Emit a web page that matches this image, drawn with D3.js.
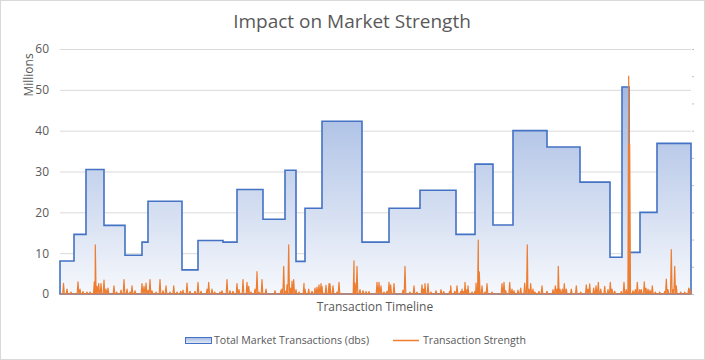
<!DOCTYPE html>
<html><head><meta charset="utf-8">
<script src="https://cdn.jsdelivr.net/npm/d3@7"></script>
<style>body{margin:0;background:#fff}text{font-family:"Open Sans",sans-serif}</style>
</head><body><svg id="c" width="705" height="360"></svg>
<script>
// ---- data ----
const yTickValues = [0, 10, 20, 30, 40, 50, 60];
const y2TickValues = [0, 1, 2, 3, 4, 5, 6, 7, 8, 9];
const timelineLength = 631;
// Total Market Transactions (millions): step start on timeline, value
const stepStarts = [0,14,26,44,65,82,88,122,138,163,177,203,225,236,245,262,302,329,360,396,415,433,453,487,520,550,562,569,580,597];
const stepValues = [8.1,14.6,30.5,16.8,9.5,12.7,22.7,5.9,13.1,12.7,25.6,18.3,30.3,8.0,21.0,42.3,12.7,21.0,25.4,14.6,31.8,16.9,40.0,36.0,27.4,9.0,50.7,10.2,20.0,36.9];
// Transaction Strength spikes (secondary axis)
const spikeTimes = [3.5,7,11,18,20,23,27,30,34.3,35.3,37,38.7,41,44,46,48,54,56.7,61,64,67,70,72,75,
82,84,86,88,90,92,96,100,103,106,110,113.7,117,120.7,123,127,130,135,138,141,147,148.7,152,154.7,
160,162,167,170,173,177,179,183,187,188.7,191,195,197,199,202,206,215,221,222,223.7,225.7,227,228.7,230.7,232,233.7,236,
239,244,245,248.7,252,255,257,259,261,262,266,269,270,273,277,279,294,295,297,300,303,306,309,317,
319,321,324,327,329,330.7,334,343,345,350,354,357,362,363.7,365,368,371,376,381,383.7,389.7,390.7,394.7,397,
400.7,402,403.7,405,407,408,412,415,416,418.3,419.3,422,425,427,432,442,444,445.7,449.7,452,454,458,460.7,464.7,467.3,468.7,470.7,473,475,
479,482,487,493,495.3,497,498.3,500,502.3,504.3,506.3,511.3,516.3,520.7,526.3,528,529.7,533.7,536,538.3,540.7,544.7,548,550.3,552,554.7,
561.3,564,566.3,568.7,569.7,573,575.3,577.3,579.7,581.3,584.3,586,588,590,592.3,595.3,599.7,604.7,606.3,608,611.3,613,614.7,616.3,620.7,624.7,628.7,630];
const spikeValues = [0.39,0.18,0.07,0.45,0.18,0.09,0.07,0.07,0.45,1.81,0.28,0.38,0.38,0.51,0.18,0.22,0.3,0.07,0.14,0.53,0.18,0.07,0.3,0.12,
0.38,0.28,0.4,0.14,0.53,0.12,0.07,0.53,0.12,0.3,0.07,0.3,0.07,0.1,0.14,0.4,0.1,0.1,0.43,0.1,0.18,0.43,0.18,0.07,
0.07,0.12,0.53,0.12,0.1,0.38,0.16,0.53,0.43,0.28,0.07,0.18,0.82,0.07,0.53,0.18,0.12,0.14,0.18,1.02,0.1,0.34,1.81,0.22,0.47,0.53,0.16,
0.07,0.39,0.18,0.18,0.1,0.22,0.25,0.34,0.38,0.28,0.32,0.38,0.37,0.3,0.07,0.43,1.22,0.4,1.02,0.16,0.12,0.09,0.09,0.43,
0.43,0.3,0.07,0.1,0.43,0.34,0.38,0.14,1.02,0.07,0.3,0.07,0.34,0.18,0.38,0.38,0.07,0.12,0.16,0.09,0.1,0.3,0.1,0.3,
0.09,0.18,0.09,0.43,0.16,0.3,0.07,0.1,0.4,1.98,0.81,0.3,0.07,0.38,0.07,0.38,0.43,0.12,0.43,0.18,0.12,0.14,0.22,0.4,1.81,0.18,0.38,0.18,0.07,
0.1,0.3,0.1,0.16,0.3,0.18,1.02,0.18,0.18,0.38,0.18,0.18,0.3,0.07,0.34,0.18,0.37,0.22,0.3,0.43,0.18,0.28,0.16,0.43,0.18,0.1,
0.09,0.43,0.16,8.0,5.5,0.12,0.16,0.43,0.16,0.16,0.45,0.22,0.18,0.14,0.3,0.07,0.07,0.09,0.55,0.16,1.63,0.16,1.02,0.3,0.07,0.07,0.22,0.18];
const titleText = "Impact on Market Strength";
const xTitle = "Transaction Timeline";
const yUnitLabel = "Millions";
const seriesNames = ["Total Market Transactions (dbs)", "Transaction Strength"];

// ---- chart ----
const svg = d3.select("#c");
const L = 60, R = 691, T = 49, B = 294;
const x = d3.scaleLinear().domain([0, timelineLength]).range([L, R]);
const y = d3.scaleLinear().domain([0, 60]).range([B, T]);
const y2 = d3.scaleLinear().domain([0, 9]).range([B, T]);

svg.append("rect").attr("x",0.5).attr("y",0.5).attr("width",704).attr("height",359)
  .attr("fill","#fff").attr("stroke","#d9d9d9");

const defs = svg.append("defs");
const g = defs.append("linearGradient").attr("id","gr").attr("gradientUnits","userSpaceOnUse")
  .attr("x1",0).attr("x2",0).attr("y1",y(50.7)).attr("y2",B);
g.append("stop").attr("offset","0%").attr("stop-color","#a3b9e2");
g.append("stop").attr("offset","100%").attr("stop-color","#f6f8fc");
const lgr = defs.append("linearGradient").attr("id","lgr").attr("x1",0).attr("x2",0).attr("y1",0).attr("y2",1);
lgr.append("stop").attr("offset","0%").attr("stop-color","#a3b9e2");
lgr.append("stop").attr("offset","100%").attr("stop-color","#e6ecf7");

// gridlines
svg.append("g").selectAll("line").data(yTickValues.slice(1)).join("line")
  .attr("x1",L).attr("x2",R).attr("y1",d=>y(d)+0.5).attr("y2",d=>y(d)+0.5)
  .attr("stroke","#d9d9d9").attr("stroke-width",1);

// y axis labels
const ya = svg.append("g").attr("transform",`translate(${L-11},0)`)
  .call(d3.axisLeft(y).tickValues(yTickValues).tickSize(0).tickPadding(0));
ya.select(".domain").remove();
ya.selectAll("text").attr("fill","#595959").style("font-size","12px").style("font-family","'Open Sans',sans-serif");

// secondary axis ticks
const y2a = svg.append("g").attr("transform",`translate(${R+1},0)`)
  .call(d3.axisRight(y2).tickValues(y2TickValues).tickSize(2).tickFormat(""));
y2a.select(".domain").remove();
y2a.selectAll("line").attr("stroke","#bfbfbf");

// step area
const stepPts = stepStarts.map((s,i)=>[s, stepValues[i]]);
stepPts.push([timelineLength, stepValues[stepValues.length-1]]);
const area = d3.area().curve(d3.curveStepAfter).x(d=>x(d[0])).y0(y(0)).y1(d=>y(d[1]));
svg.append("path").datum(stepPts).attr("d", area)
  .attr("fill","url(#gr)").attr("stroke","#4472c4").attr("stroke-width",1.6).attr("stroke-linejoin","miter");

// strength line
const hw = 0.8;
let pts = [[0,0],[timelineLength,0]];
spikeTimes.forEach((t,i)=>{ pts.push([t-hw,0],[t,spikeValues[i]],[t+hw,0]); });
pts.sort((a,b)=>a[0]-b[0]);
const line = d3.line().x(d=>x(d[0])).y(d=>y2(d[1]));
svg.append("path").datum(pts).attr("d", line)
  .attr("fill","none").attr("stroke","#ed7d31").attr("stroke-width",1.2).attr("stroke-linejoin","round");

// titles
svg.append("text").attr("x",352).attr("y",28).attr("text-anchor","middle")
  .attr("fill","#595959").style("font-size","19px").text(titleText);
svg.append("text").attr("x",375).attr("y",311).attr("text-anchor","middle")
  .attr("fill","#595959").style("font-size","12px").text(xTitle);
svg.append("text").attr("transform","translate(33,75) rotate(-90)").attr("text-anchor","middle")
  .attr("fill","#595959").style("font-size","12px").text(yUnitLabel);

// legend
const lg = svg.append("g");
lg.append("rect").attr("x",185.5).attr("y",337.5).attr("width",26).attr("height",6)
  .attr("fill","url(#lgr)").attr("stroke","#4472c4").attr("stroke-width",1);
lg.append("text").attr("x",214).attr("y",344).attr("fill","#595959").style("font-size","10.6px").text(seriesNames[0]);
lg.append("line").attr("x1",393).attr("x2",419).attr("y1",340.5).attr("y2",340.5)
  .attr("stroke","#ed7d31").attr("stroke-width",1.5);
lg.append("text").attr("x",423).attr("y",344).attr("fill","#595959").style("font-size","10.6px").text(seriesNames[1]);
</script></body></html>
